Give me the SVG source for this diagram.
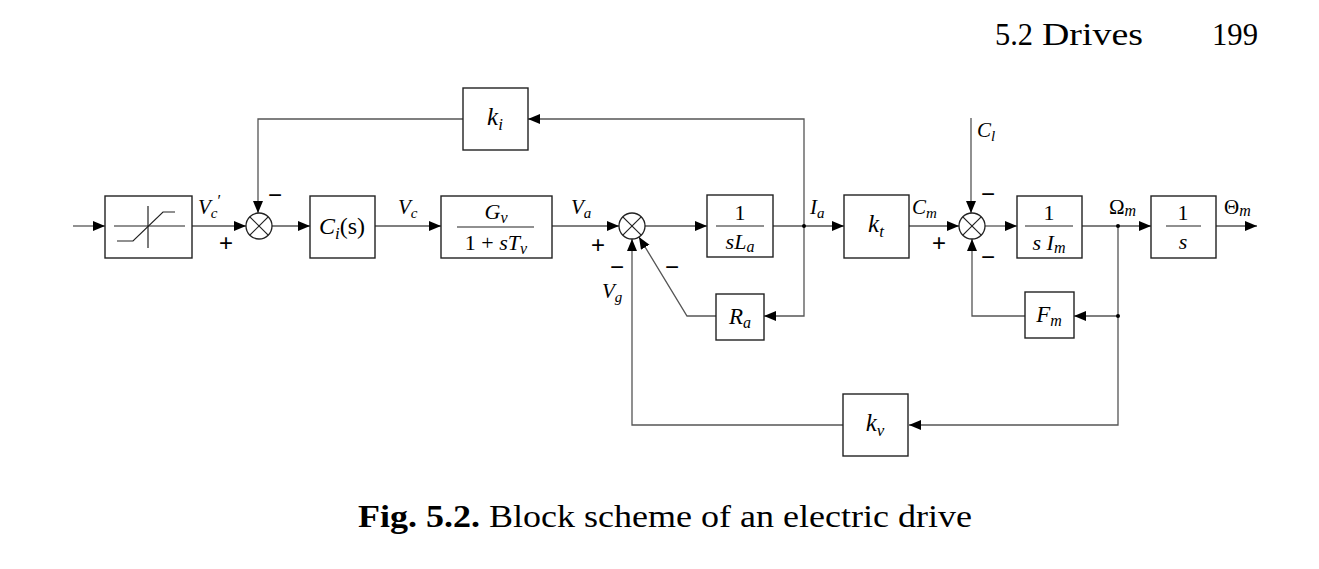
<svg xmlns="http://www.w3.org/2000/svg" width="1319" height="569" viewBox="0 0 1319 569">
<defs>
<marker id="ah" markerUnits="userSpaceOnUse" markerWidth="13" markerHeight="11" refX="12" refY="5" orient="auto">
<path d="M0,0 L12,5 L0,10 z" fill="#000"/>
</marker>
<style>
.blk{fill:#fff;stroke:#222;stroke-width:1.4}
.ln{fill:none;stroke:#555;stroke-width:1.3}
.arr{fill:none;stroke:#555;stroke-width:1.3;marker-end:url(#ah)}
.m{font-family:"Liberation Serif",serif;font-style:italic;fill:#000}
.r{font-family:"Liberation Serif",serif;fill:#000}
.sg{font-family:"Liberation Sans",sans-serif;font-size:24px;fill:#000;text-anchor:middle}
.sum{fill:#fff;stroke:#222;stroke-width:1.3}
.fr{stroke:#222;stroke-width:1.2}
</style>
</defs>
<rect width="1319" height="569" fill="#fff"/>

<g id="header">
<text class="r" x="995" y="45" font-size="32" textLength="38" lengthAdjust="spacingAndGlyphs">5.2</text>
<text class="r" x="1042" y="45" font-size="32" textLength="101" lengthAdjust="spacingAndGlyphs">Drives</text>
<text class="r" x="1212" y="45" font-size="32" textLength="46" lengthAdjust="spacingAndGlyphs">199</text>
</g>

<g id="connectors">
<line class="arr" x1="73" y1="226" x2="105" y2="226"/>
<line class="arr" x1="192" y1="226" x2="246" y2="226"/>
<line class="arr" x1="272" y1="226" x2="310" y2="226"/>
<line class="arr" x1="375" y1="226" x2="441" y2="226"/>
<line class="arr" x1="552" y1="226" x2="619" y2="226"/>
<line class="arr" x1="645" y1="226" x2="707" y2="226"/>
<line class="arr" x1="773" y1="226" x2="844" y2="226"/>
<line class="arr" x1="909" y1="226" x2="959" y2="226"/>
<line class="arr" x1="985" y1="226" x2="1017" y2="226"/>
<line class="arr" x1="1082" y1="226" x2="1151" y2="226"/>
<line class="arr" x1="1216" y1="226" x2="1257" y2="226"/>
<polyline class="arr" points="804,226 804,119 528,119"/>
<polyline class="arr" points="463,119 258,119 258,213"/>
<polyline class="arr" points="804,226 804,316 764,316"/>
<polyline class="arr" points="716,316 687,316 639,237"/>
<polyline class="arr" points="1118,226 1118,425 909,425"/>
<polyline class="arr" points="843,425 632,425 632,239"/>
<line class="arr" x1="1118" y1="316" x2="1074" y2="316"/>
<polyline class="arr" points="1025,316 972,316 972,239"/>
<line class="arr" x1="971" y1="118" x2="971" y2="213"/>
<circle cx="804" cy="226" r="2" fill="#000"/>
<circle cx="1118" cy="226" r="2" fill="#000"/>
<circle cx="1118" cy="316" r="2" fill="#000"/>
</g>

<g id="saturation">
<rect class="blk" x="105" y="196" width="87" height="62"/>
<line class="fr" x1="114" y1="226" x2="185" y2="226"/>
<line class="fr" x1="148" y1="206" x2="148" y2="248"/>
<polyline fill="none" class="fr" points="117,241 133,241 163,212 175,212"/>
</g>

<g id="sum1">
<circle class="sum" cx="259" cy="226" r="13"/>
<line class="fr" x1="249.8" y1="216.8" x2="268.2" y2="235.2"/>
<line class="fr" x1="249.8" y1="235.2" x2="268.2" y2="216.8"/>
<text class="sg" x="226" y="251">+</text>
<text class="sg" x="275" y="203">−</text>
</g>

<g id="Ci">
<rect class="blk" x="310" y="196" width="65" height="62"/>
<text class="m" x="342" y="234" font-size="24" text-anchor="middle">C<tspan font-size="17" dy="5">i</tspan><tspan dy="-5" font-style="normal">(s)</tspan></text>
</g>

<g id="Gv">
<rect class="blk" x="441" y="196" width="111" height="62"/>
<text class="m" x="496" y="219" font-size="22" text-anchor="middle">G<tspan font-size="16" dy="4">v</tspan></text>
<line class="fr" x1="457" y1="227" x2="534" y2="227"/>
<text class="m" x="496" y="250" font-size="22" text-anchor="middle"><tspan font-style="normal">1 + </tspan>sT<tspan font-size="16" dy="4">v</tspan></text>
</g>

<g id="sum2">
<circle class="sum" cx="632" cy="226" r="13"/>
<line class="fr" x1="622.8" y1="216.8" x2="641.2" y2="235.2"/>
<line class="fr" x1="622.8" y1="235.2" x2="641.2" y2="216.8"/>
<text class="sg" x="598" y="253">+</text>
<text class="sg" x="617" y="275">−</text>
<text class="sg" x="672" y="275">−</text>
</g>

<g id="sLa">
<rect class="blk" x="707" y="195" width="66" height="62"/>
<text class="r" x="740" y="220" font-size="22" text-anchor="middle">1</text>
<line class="fr" x1="716" y1="226" x2="764" y2="226"/>
<text class="m" x="740" y="249" font-size="22" text-anchor="middle">sL<tspan font-size="16" dy="3">a</tspan></text>
</g>

<g id="kt">
<rect class="blk" x="844" y="195" width="65" height="63"/>
<text class="m" x="876" y="232" font-size="25" text-anchor="middle">k<tspan font-size="17" dy="5">t</tspan></text>
</g>

<g id="sum3">
<circle class="sum" cx="972" cy="226" r="13"/>
<line class="fr" x1="962.8" y1="216.8" x2="981.2" y2="235.2"/>
<line class="fr" x1="962.8" y1="235.2" x2="981.2" y2="216.8"/>
<text class="sg" x="939" y="251">+</text>
<text class="sg" x="988" y="202">−</text>
<text class="sg" x="988" y="265">−</text>
</g>

<g id="sIm">
<rect class="blk" x="1017" y="196" width="65" height="62"/>
<text class="r" x="1049" y="220" font-size="22" text-anchor="middle">1</text>
<line class="fr" x1="1025" y1="226" x2="1073" y2="226"/>
<text class="m" x="1049" y="250" font-size="22" text-anchor="middle">s I<tspan font-size="16" dy="3">m</tspan></text>
</g>

<g id="integrator">
<rect class="blk" x="1151" y="196" width="65" height="62"/>
<text class="r" x="1183" y="220" font-size="22" text-anchor="middle">1</text>
<line class="fr" x1="1166" y1="226" x2="1201" y2="226"/>
<text class="m" x="1183" y="249" font-size="22" text-anchor="middle">s</text>
</g>

<g id="ki">
<rect class="blk" x="463" y="88" width="65" height="62"/>
<text class="m" x="495" y="125" font-size="25" text-anchor="middle">k<tspan font-size="17" dy="5">i</tspan></text>
</g>

<g id="Ra">
<rect class="blk" x="716" y="294" width="48" height="46"/>
<text class="m" x="740" y="324" font-size="23" text-anchor="middle">R<tspan font-size="16" dy="4">a</tspan></text>
</g>

<g id="Fm">
<rect class="blk" x="1025" y="292" width="49" height="46"/>
<text class="m" x="1049" y="322" font-size="23" text-anchor="middle">F<tspan font-size="16" dy="4">m</tspan></text>
</g>

<g id="kv">
<rect class="blk" x="843" y="394" width="65" height="62"/>
<text class="m" x="875" y="431" font-size="25" text-anchor="middle">k<tspan font-size="17" dy="5">v</tspan></text>
</g>

<g id="signal-labels">
<text class="m" x="198" y="214" font-size="21">V<tspan font-size="15" dy="4">c</tspan><tspan font-size="16" dy="-12" font-style="normal">′</tspan></text>
<text class="m" x="398" y="214" font-size="21">V<tspan font-size="15" dy="4">c</tspan></text>
<text class="m" x="571" y="214" font-size="21">V<tspan font-size="15" dy="4">a</tspan></text>
<text class="m" x="810" y="214" font-size="21">I<tspan font-size="15" dy="4">a</tspan></text>
<text class="m" x="912" y="214" font-size="21">C<tspan font-size="15" dy="4">m</tspan></text>
<text class="m" x="977" y="137" font-size="21">C<tspan font-size="15" dy="4">l</tspan></text>
<text class="m" x="602" y="298" font-size="21">V<tspan font-size="15" dy="4">g</tspan></text>
<text class="r" x="1109" y="214" font-size="21">Ω<tspan class="m" font-size="16" dy="2">m</tspan></text>
<text class="r" x="1224" y="214" font-size="21">Θ<tspan class="m" font-size="16" dy="2">m</tspan></text>
</g>

<g id="caption">
<text class="r" x="358" y="527" font-size="32" textLength="614" lengthAdjust="spacingAndGlyphs"><tspan font-weight="bold">Fig. 5.2.</tspan> Block scheme of an electric drive</text>
</g>
</svg>
